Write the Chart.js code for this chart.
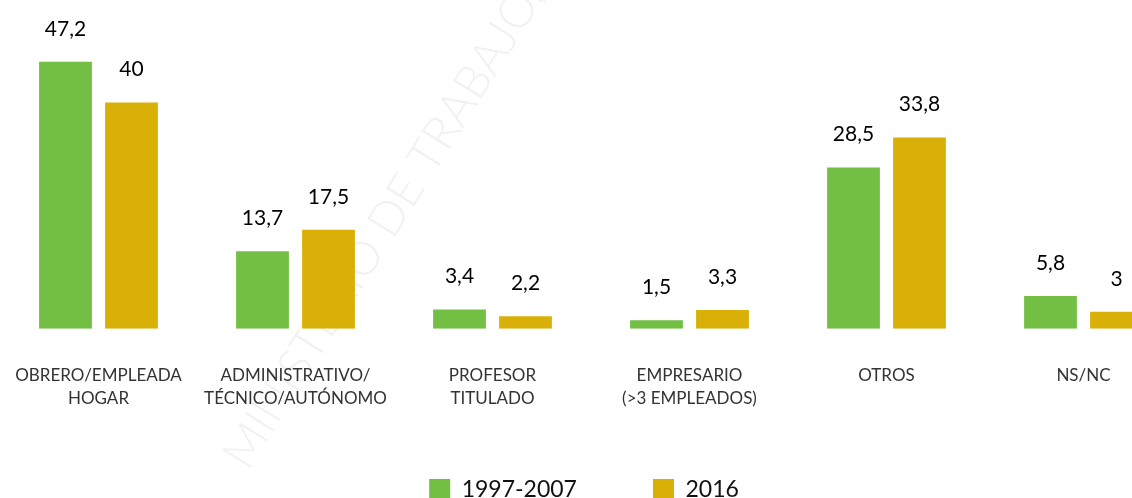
<!DOCTYPE html>
<html>
<head>
<meta charset="utf-8">
<script src="https://cdn.jsdelivr.net/npm/chart.js@4/dist/chart.umd.min.js"></script>
<style>
  html, body { margin: 0; padding: 0; background: #fff; overflow: hidden; }
  #wrap { position: relative; width: 1182px; height: 518px; }
</style>
</head>
<body>
<div id="wrap"><canvas id="myChart"></canvas></div>
<script>
// datos
var categorias = [
  ["OBRERO/EMPLEADA", "HOGAR"],
  ["ADMINISTRATIVO/", "TÉCNICO/AUTÓNOMO"],
  ["PROFESOR", "TITULADO"],
  ["EMPRESARIO", "(>3 EMPLEADOS)"],
  "OTROS",
  "NS/NC"
];
var serie1997 = [47.2, 13.7, 3.4, 1.5, 28.5, 5.8];
var serie2016 = [40, 17.5, 2.2, 3.3, 33.8, 3];
var nombresSeries = ["1997-2007", "2016"];

// etiquetas encima de las barras
var valoresPlugin = {
  id: "valores",
  afterDatasetsDraw: function(chart) {
    var ctx = chart.ctx;
    ctx.save();
    ctx.font = "21px Lato";
    ctx.fillStyle = "#000";
    ctx.textAlign = "center";
    ctx.textBaseline = "middle";
    chart.data.datasets.forEach(function(ds, i) {
      chart.getDatasetMeta(i).data.forEach(function(bar, j) {
        var txt = String(ds.data[j]).replace(".", ",");
        ctx.fillText(txt, bar.x, bar.y - 33);
      });
    });
    ctx.restore();
  }
};

// marca de agua
var marcaPlugin = {
  id: "marca",
  afterLayout: function(chart) {
    // leyenda un poco a la izquierda y arriba
    chart.legend.left -= 7;
    chart.legend.right -= 7;
    chart.legend.top -= 7;
    chart.legend.bottom -= 7;
  },
  beforeDraw: function(chart) {
    var ctx = chart.ctx;
    ctx.save();
    ctx.translate(248, 472);
    ctx.rotate(-58 * Math.PI / 180);
    ctx.font = "300 47px Lato";
    ctx.fillStyle = "rgba(0,0,0,0.055)";
    ctx.textBaseline = "alphabetic";
    ctx.fillText("MINISTERIO DE TRABAJO, MIGRACIONES Y SEGURIDAD SOCIAL", 0, 0);
    ctx.restore();
  }
};

function init() {
  var ctx = document.getElementById("myChart").getContext("2d");
  var chart = new Chart(ctx, {
    type: "bar",
    data: {
      labels: categorias,
      datasets: [{
        label: nombresSeries[0],
        data: serie1997,
        backgroundColor: "#72BF44"
      }, {
        label: nombresSeries[1],
        data: serie2016,
        backgroundColor: "#D9B008"
      }]
    },
    options: {
      responsive: true,
      maintainAspectRatio: false,
      animation: false,
      datasets: {
        bar: { categoryPercentage: 0.67, barPercentage: 0.8 }
      },
      layout: { padding: { top: 46, left: 0, right: 0, bottom: 0 } },
      scales: {
        x: {
          grid: { display: false, drawTicks: false },
          border: { display: false },
          ticks: {
            padding: 35,
            color: "#333",
            maxRotation: 0,
            autoSkip: false,
            font: { family: "Lato", size: 17, lineHeight: 1.36 }
          },
          afterFit: function(scale) {
            scale.paddingLeft = 0;
            scale.paddingRight = 0;
            scale.height -= 36;
          }
        },
        y: {
          display: false,
          min: 0,
          max: 50
        }
      },
      plugins: {
        legend: {
          position: "bottom",
          labels: {
            boxWidth: 21,
            boxHeight: 21,
            padding: 76,
            color: "#111",
            font: { family: "Lato", size: 23 }
          }
        },
        tooltip: { enabled: false }
      }
    },
    plugins: [valoresPlugin, marcaPlugin]
  });
}

init();
</script>
</body>
</html>
